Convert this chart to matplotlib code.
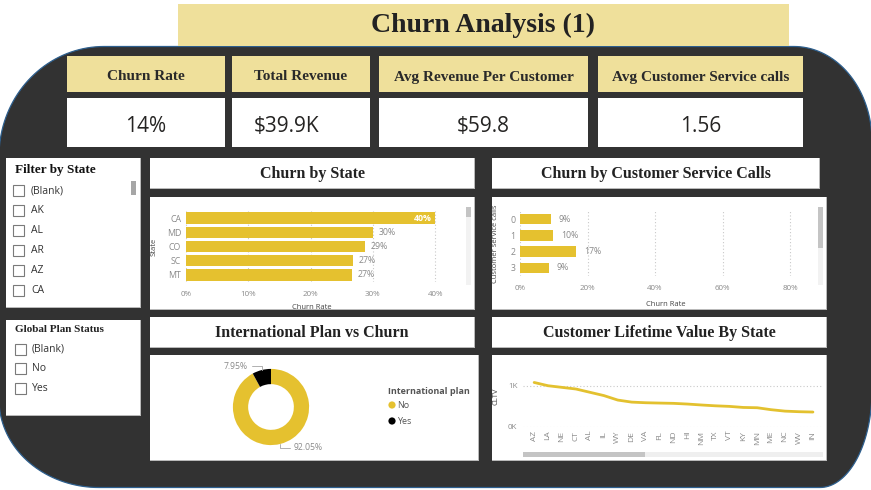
import numpy as np
import matplotlib
matplotlib.use("Agg")
import matplotlib.pyplot as plt
from matplotlib.patches import Rectangle, Polygon, Circle

# ---------------- data ----------------
dashboard_title = "Churn Analysis (1)"
kpi_labels = ["Churn Rate", "Total Revenue", "Avg Revenue Per Customer", "Avg Customer Service calls"]
kpi_values = ["14%", "$39.9K", "$59.8", "1.56"]

state_filter_items = ["(Blank)", "AK", "AL", "AR", "AZ", "CA"]
plan_filter_items = ["(Blank)", "No", "Yes"]

churn_states = ["CA", "MD", "CO", "SC", "MT"]
churn_state_rate = [40.0, 30.1, 28.7, 26.8, 26.6]
churn_state_labels = ["40%", "30%", "29%", "27%", "27%"]
state_ticks = [0, 10, 20, 30, 40]

calls_cats = ["0", "1", "2", "3"]
calls_rate = [9.2, 9.8, 16.6, 8.6]
calls_labels = ["9%", "10%", "17%", "9%"]
calls_ticks = [0, 20, 40, 60, 80]

intl_cats = ["No", "Yes"]
intl_share = [92.05, 7.95]
intl_colors = ["#E5C12F", "#000000"]

cltv_states = ["AZ", "LA", "NE", "CT", "AL", "IL", "WY", "DE", "VA", "FL", "ND",
               "HI", "NM", "TX", "VT", "KY", "MN", "ME", "NC", "WV", "IN"]
cltv_values_k = [1.08, 1.00, 0.96, 0.92, 0.84, 0.76, 0.65, 0.60, 0.585, 0.577, 0.57,
                 0.553, 0.53, 0.51, 0.496, 0.47, 0.463, 0.415, 0.38, 0.366, 0.358]

# ---------------- style ----------------
W, H = 871, 490
DARK = "#323232"
KHAKI = "#EFE09B"
BAR = "#E5C12F"
SERIF = "Liberation Serif"
SANS = "Open Sans"
TICK = "#8a8a8a"

fig = plt.figure(figsize=(W / 100, H / 100), dpi=100)
fig.patch.set_facecolor("white")

bg = fig.add_axes([0, 0, 1, 1])
bg.set_xlim(0, W)
bg.set_ylim(H, 0)
bg.axis("off")


def ax_px(x0, y0, x1, y1):
    a = fig.add_axes([x0 / W, 1 - y1 / H, (x1 - x0) / W, (y1 - y0) / H])
    a.patch.set_alpha(0)
    return a


def corner(cx, cy, rx, ry, a0, a1, n=40):
    t = np.radians(np.linspace(a0, a1, n))
    return np.column_stack([cx + rx * np.cos(t), cy + ry * np.sin(t)])


# dark rounded background shape
L, R, T, B = -1, 872, 46.5, 487.5
pts = np.vstack([
    corner(L + 105, T + 110, 105, 110, 180, 270),
    corner(R - 78, T + 95, 78, 95, 270, 360),
    corner(R - 52, B - 97, 52, 97, 0, 90),
    corner(L + 100, B - 88, 100, 88, 90, 180),
])
bg.add_patch(Polygon(pts, closed=True, facecolor=DARK, edgecolor="#2d5f8e", lw=0.9, zorder=1))


def box(x0, y0, x1, y1, color="white", shadow=True):
    if shadow:
        bg.add_patch(Rectangle((x0, y0), x1 - x0 + 1.2, y1 - y0 + 1.2, facecolor="#b9b9b9",
                               edgecolor="none", zorder=2))
    bg.add_patch(Rectangle((x0, y0), x1 - x0, y1 - y0, facecolor=color, edgecolor="none", zorder=3))


# title
box(178, 4, 789, 46, KHAKI, shadow=False)
bg.text(483, 25, dashboard_title, ha="center", va="center", fontsize=20, fontweight="bold",
        family=SERIF, color="#222222", zorder=5)

# KPI cards
kpi_x = [(67, 225), (232, 370), (379, 588), (598, 803)]
for (x0, x1), lab in zip(kpi_x, kpi_labels):
    box(x0, 56, x1, 92, KHAKI, shadow=False)
    bg.text((x0 + x1) / 2, 77, lab, ha="center", va="center", fontsize=11, fontweight="bold",
            family=SERIF, color="#2a2a2a", zorder=5)
    box(x0, 98, x1, 147, "white", shadow=False)
for (x0, x1), val, xoff in zip(kpi_x, kpi_values, [0, -14, 0, 0]):
    bg.text((x0 + x1) / 2 + xoff, 126, val, ha="center", va="center", fontsize=15,
            family=SANS, color="#252423", zorder=5)

# slicers
box(6, 158, 140, 307)
bg.text(15, 170, "Filter by State", ha="left", va="center", fontsize=9.5, fontweight="bold",
        family=SERIF, color="#111111", zorder=5)
bg.add_patch(Rectangle((131, 181), 5, 14, facecolor="#a6a6a6", edgecolor="none", zorder=5))
for i, item in enumerate(state_filter_items):
    y = 190.5 + 19.9 * i
    bg.add_patch(Rectangle((13, y - 5.5), 11, 11, facecolor="white", edgecolor="#7a7a7a",
                           lw=0.8, zorder=5))
    bg.text(31, y, item, ha="left", va="center", fontsize=7.5, family=SANS, color="#333333", zorder=5)

box(6, 320, 140, 415)
bg.text(15, 329, "Global Plan Status", ha="left", va="center", fontsize=8, fontweight="bold",
        family=SERIF, color="#222222", zorder=5)
for i, item in enumerate(plan_filter_items):
    y = 349 + 19.5 * i
    bg.add_patch(Rectangle((15, y - 5.5), 11, 11, facecolor="white", edgecolor="#7a7a7a",
                           lw=0.8, zorder=5))
    bg.text(32, y, item, ha="left", va="center", fontsize=7.5, family=SANS, color="#333333", zorder=5)

# panel titles + chart boxes
panels = [
    ((150, 158, 474, 188), "Churn by State"),
    ((492, 158, 819, 188), "Churn by Customer Service Calls"),
    ((150, 317, 474, 347), "International Plan vs Churn"),
    ((492, 317, 826, 347), "Customer Lifetime Value By State"),
]
for (x0, y0, x1, y1), t in panels:
    box(x0, y0, x1, y1)
    bg.text((x0 + x1) / 2, (y0 + y1) / 2 + 0.5, t, ha="center", va="center", fontsize=11.5,
            fontweight="bold", family=SERIF, color="#222222", zorder=5)
for rect in [(150, 197, 474, 309), (492, 197, 826, 309), (150, 355, 478, 460), (492, 355, 826, 460)]:
    box(*rect)

# scrollbars
bg.add_patch(Rectangle((466, 207), 4.5, 78, facecolor="#f2f2f2", edgecolor="none", zorder=5))
bg.add_patch(Rectangle((466, 207), 4.5, 10, facecolor="#c4c4c4", edgecolor="none", zorder=6))
bg.add_patch(Rectangle((818, 207), 5, 78, facecolor="#f2f2f2", edgecolor="none", zorder=5))
bg.add_patch(Rectangle((818, 207), 5, 41, facecolor="#c4c4c4", edgecolor="none", zorder=6))
bg.add_patch(Rectangle((523, 452), 300, 5, facecolor="#efefef", edgecolor="none", zorder=5))
bg.add_patch(Rectangle((523, 452), 122, 5, facecolor="#c4c4c4", edgecolor="none", zorder=6))


def style_bar_axes(a, ticks, fmt):
    for s in a.spines.values():
        s.set_visible(False)
    a.set_xticks(ticks)
    a.set_xticklabels([fmt(t) for t in ticks], fontsize=5.8, color=TICK, family=SANS)
    a.tick_params(axis="both", length=0)
    a.tick_params(axis="x", pad=6.5)
    a.tick_params(axis="y", pad=3.5, labelsize=6.3, labelcolor=TICK)
    for lab in a.get_yticklabels():
        lab.set_family(SANS)
    a.grid(axis="x", color="#c9c9c9", lw=0.8, ls=(0, (1, 2)))
    a.set_axisbelow(True)


# Churn by State
ax1 = ax_px(186, 211, 437, 282)
y1 = np.arange(len(churn_states))
ax1.barh(y1, churn_state_rate, height=0.8, color=BAR)
ax1.set_yticks(y1)
ax1.set_yticklabels(churn_states)
ax1.set_ylim(len(churn_states) - 0.5, -0.5)
ax1.set_xlim(0, 40.3)
style_bar_axes(ax1, state_ticks, lambda t: f"{t}%")
for yi, v, lab in zip(y1, churn_state_rate, churn_state_labels):
    if v >= 35:
        ax1.text(v - 0.6, yi, lab, ha="right", va="center", fontsize=6.3, color="white",
                 fontweight="bold", family=SANS)
    else:
        ax1.text(v + 0.9, yi, lab, ha="left", va="center", fontsize=6.3, color=TICK, family=SANS)
ax1.set_xlabel("Churn Rate", fontsize=5.5, color="#444444", family=SANS)
ax1.xaxis.set_label_coords(0.5, -0.31)
ax1.set_ylabel("State", fontsize=5.5, color="#444444", family=SANS)
ax1.yaxis.set_label_coords(-0.112, 0.5)

# Churn by Customer Service Calls
ax2 = ax_px(520, 211, 812, 276)
y2 = np.arange(len(calls_cats))
ax2.barh(y2, calls_rate, height=0.65, color=BAR)
ax2.set_yticks(y2)
ax2.set_yticklabels(calls_cats)
ax2.set_ylim(len(calls_cats) - 0.5, -0.5)
ax2.set_xlim(0, 86.5)
style_bar_axes(ax2, calls_ticks, lambda t: f"{t}%")
for yi, v, lab in zip(y2, calls_rate, calls_labels):
    ax2.text(v + 2.3, yi, lab, ha="left", va="center", fontsize=6.3, color=TICK, family=SANS)
ax2.set_xlabel("Churn Rate", fontsize=5.5, color="#444444", family=SANS)
ax2.xaxis.set_label_coords(0.5, -0.385)
ax2.set_ylabel("Customer service calls", fontsize=5.5, color="#444444", family=SANS)
ax2.yaxis.set_label_coords(-0.072, 0.5)

# International plan donut
ax3 = ax_px(231, 367, 311, 447)
wedges, _ = ax3.pie(intl_share, colors=intl_colors, startangle=90, counterclock=False,
                    radius=1.0, wedgeprops=dict(width=0.4, edgecolor="none"))
ax3.set_xlim(-1.05, 1.05)
ax3.set_ylim(-1.05, 1.05)
ax3.set_aspect("equal")
for w, share in zip(wedges, intl_share):
    ang = np.radians((w.theta1 + w.theta2) / 2)
    cx, cy = np.cos(ang), np.sin(ang)
    sgn = 1 if cx > 0 else -1
    tx, ty = cx * 1.1 + sgn * 0.33, cy * 1.1
    ax3.annotate(f"{share:.2f}%", xy=(cx, cy), xytext=(tx, ty), fontsize=6.2, color=TICK,
                 family=SANS, ha="left" if sgn > 0 else "right", va="center",
                 arrowprops=dict(arrowstyle="-", color="#b0b0b0", lw=0.7,
                                 connectionstyle="angle,angleA=0,angleB=90,rad=0",
                                 shrinkA=1, shrinkB=0),
                 annotation_clip=False)

bg.text(388, 391, "International plan", ha="left", va="center", fontsize=6.5,
        fontweight="bold", family=SANS, color="#555555", zorder=6)
for i, (c, col) in enumerate(zip(intl_cats, intl_colors)):
    yy = 405 + 16 * i
    bg.add_patch(Circle((392, yy), 3.6, facecolor=col, edgecolor="none", zorder=6))
    bg.text(397, yy, c, ha="left", va="center", fontsize=6.5, family=SANS, color="#555555", zorder=6)

# CLTV line
ax4 = ax_px(523, 375.5, 822, 426.7)
x4 = np.arange(len(cltv_states))
ax4.plot(x4, cltv_values_k, color="#E3C12F", lw=2.0, solid_capstyle="round")
ax4.set_xlim(-0.8, len(cltv_states) - 1 + 0.65)
ax4.set_ylim(0, 1.25)
for s in ax4.spines.values():
    s.set_visible(False)
ax4.set_yticks([0, 1])
ax4.set_yticklabels(["0K", "1K"], fontsize=5.8, color=TICK, family=SANS)
ax4.set_xticks(x4)
ax4.set_xticklabels(cltv_states, rotation=90, fontsize=6, color=TICK, family=SANS)
ax4.tick_params(axis="both", length=0)
ax4.tick_params(axis="x", pad=3)
ax4.tick_params(axis="y", pad=4)
ax4.grid(axis="y", color="#c9c9c9", lw=0.8, ls=(0, (1, 2)))
ax4.set_axisbelow(True)
ax4.set_ylabel("CLTV", fontsize=5.5, color="#444444", family=SANS)
ax4.yaxis.set_label_coords(-0.08, 0.6)

fig.savefig("out.png", dpi=100)
